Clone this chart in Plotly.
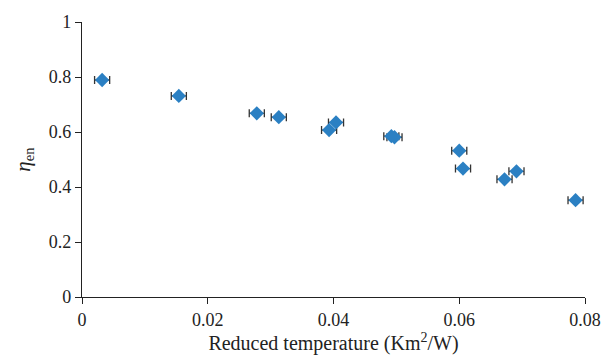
import plotly.graph_objects as go

reduced_temp = [0.0032, 0.0154, 0.0278, 0.0313, 0.0393, 0.0404, 0.0492, 0.0497, 0.0600, 0.0606, 0.0672, 0.0691, 0.0785]
efficiency = [0.789, 0.731, 0.668, 0.654, 0.607, 0.635, 0.585, 0.581, 0.532, 0.467, 0.428, 0.457, 0.352]
x_error = [0.0012] * len(reduced_temp)

x_ticks = [0, 0.02, 0.04, 0.06, 0.08]
x_tick_labels = ["0", "0.02", "0.04", "0.06", "0.08"]
y_ticks = [0, 0.2, 0.4, 0.6, 0.8, 1]
y_tick_labels = ["0", "0.2", "0.4", "0.6", "0.8", "1"]

font_family = "Liberation Serif"

fig = go.Figure()
fig.add_trace(go.Scatter(
    x=reduced_temp, y=efficiency, mode="markers",
    marker=dict(symbol="diamond", size=11, color="#2b80c3", line=dict(width=0)),
    error_x=dict(type="data", array=x_error, visible=True, color="#333333", thickness=1.3, width=4),
    showlegend=False,
))

fig.update_layout(
    width=613, height=360,
    margin=dict(l=82, r=26, t=18, b=63),
    plot_bgcolor="white", paper_bgcolor="white",
    font=dict(family=font_family, size=18, color="#222222"),
    xaxis=dict(
        range=[0, 0.08], tickvals=x_ticks, ticktext=x_tick_labels,
        showgrid=False, zeroline=False, showline=True, linecolor="#222222", linewidth=1.3,
        ticks="outside", ticklen=6, tickwidth=1.3, tickcolor="#222222",
        tickfont=dict(size=18),
        title=dict(text="Reduced temperature (Km<sup>2</sup>/W)", standoff=4, font=dict(size=20)),
    ),
    yaxis=dict(
        range=[0, 1], tickvals=y_ticks, ticktext=y_tick_labels,
        showgrid=False, zeroline=False, showline=True, linecolor="#222222", linewidth=1.3,
        ticks="outside", ticklen=6, tickwidth=1.3, tickcolor="#222222",
        tickfont=dict(size=18),
        title=dict(text="<i>η</i><sub>en</sub>", standoff=12, font=dict(size=21)),
    ),
)

fig.write_html("out.html")
